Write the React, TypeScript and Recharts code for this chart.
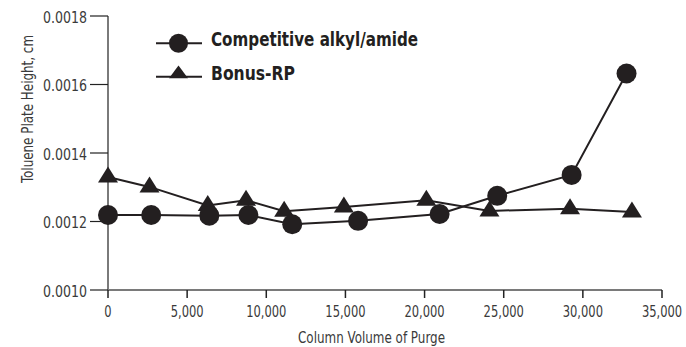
import React from "react";
import { LineChart, Line, XAxis, YAxis, Legend, Label } from "recharts";

const circleX = [0, 2730, 6400, 8870, 11640, 15800, 20950, 24590, 29290, 32760];
const circleY = [0.001219, 0.001219, 0.001217, 0.001219, 0.001192, 0.001202, 0.001222, 0.001275, 0.001336, 0.001632];
const triangleX = [0, 2620, 6300, 8720, 11130, 14900, 20110, 24100, 29190, 33100];
const triangleY = [0.00133, 0.001301, 0.001247, 0.001262, 0.00123, 0.001242, 0.001262, 0.001231, 0.001237, 0.001228];
const xTicks = [0, 5000, 10000, 15000, 20000, 25000, 30000, 35000];
const yTicks = [0.001, 0.0012, 0.0014, 0.0016, 0.0018];
const seriesNames = ["Competitive alkyl/amide", "Bonus-RP"];
const xTitle = "Column Volume of Purge";
const yTitle = "Toluene Plate Height, cm";

const circleData = circleX.map((x, i) => ({ x, y: circleY[i] }));
const triangleData = triangleX.map((x, i) => ({ x, y: triangleY[i] }));

const FONT = "'Liberation Sans Narrow', 'DejaVu Sans Condensed', 'Roboto Condensed', 'Arial Narrow', 'Liberation Sans', Arial, sans-serif";
const INK = "#231f20";
const TXT = "#3a3a3a";

const CircleDot = (props: any) => {
  const { cx, cy } = props;
  if (cx == null || cy == null) return null;
  return <circle cx={cx} cy={cy} r={10} fill={INK} stroke="none" />;
};

const TriangleDot = (props: any) => {
  const { cx, cy } = props;
  if (cx == null || cy == null) return null;
  const pts = `${cx},${cy - 10.5} ${cx - 10},${cy + 5.5} ${cx + 10},${cy + 5.5}`;
  return <polygon points={pts} fill={INK} stroke="none" />;
};

const YTick = (props: any) => {
  const { x, y, payload } = props;
  const s = Number(payload.value).toFixed(4);
  return (
    <text x={x - 1} y={y} dy={6.5} textAnchor="end" fill={TXT} fontFamily={FONT} fontSize={16}
      textLength={44} lengthAdjust="spacingAndGlyphs">
      {s}
    </text>
  );
};

const XTick = (props: any) => {
  const { x, y, payload } = props;
  const s = Number(payload.value).toLocaleString("en-US");
  return (
    <g transform={`translate(${x}, ${y + 17}) scale(0.8, 1)`}>
      <text x={0} y={0} textAnchor="middle" fill={TXT} fontFamily={FONT} fontSize={16}>
        {s}
      </text>
    </g>
  );
};

const LegendContent = () => (
  <svg width={300} height={70} style={{ display: "block", overflow: "visible" }}>
    <line x1={6} y1={18.3} x2={52} y2={18.3} stroke={INK} strokeWidth={2} />
    <circle cx={28.5} cy={18.3} r={9.5} fill={INK} />
    <text x={61} y={20.7} fill={INK} fontFamily={FONT} fontWeight="bold" fontSize={19}
      textLength={207} lengthAdjust="spacingAndGlyphs">
      {seriesNames[0]}
    </text>
    <line x1={6} y1={51.7} x2={52} y2={51.7} stroke={INK} strokeWidth={2} />
    <polygon points={`28.5,40.5 19,53.2 38,53.2`} fill={INK} />
    <text x={61} y={55} fill={INK} fontFamily={FONT} fontWeight="bold" fontSize={19}
      textLength={84} lengthAdjust="spacingAndGlyphs">
      {seriesNames[1]}
    </text>
  </svg>
);

export default function App() {
  return (
    <div style={{ position: "absolute", left: 0, top: 0, width: 686, height: 347, background: "#fff" }}>
      <LineChart width={686} height={347} margin={{ top: 16, right: 24, left: 0, bottom: 0 }}>
        <XAxis
          dataKey="x"
          type="number"
          domain={[0, 35000]}
          ticks={xTicks}
          height={57}
          tickSize={8}
          tick={<XTick />}
          axisLine={{ stroke: "#7a7a7a", strokeWidth: 2 }}
          tickLine={{ stroke: "#222", strokeWidth: 1.5 }}
          allowDuplicatedCategory={false}
        >
          <Label
            content={() => (
              <text x={371.5} y={343} textAnchor="middle" fill={TXT} fontFamily={FONT} fontSize={16}
                textLength={147} lengthAdjust="spacingAndGlyphs">
                {xTitle}
              </text>
            )}
          />
        </XAxis>
        <YAxis
          dataKey="y"
          type="number"
          domain={[0.001, 0.0018]}
          ticks={yTicks}
          width={108}
          tickSize={18}
          tick={<YTick />}
          axisLine={{ stroke: "#7a7a7a", strokeWidth: 2 }}
          tickLine={{ stroke: "#222", strokeWidth: 1.2 }}
        >
          <Label
            content={() => (
              <text x={33} y={109} textAnchor="middle" fill={TXT} fontFamily={FONT} fontSize={16}
                transform="rotate(-90, 33, 109)" textLength={148} lengthAdjust="spacingAndGlyphs">
                {yTitle}
              </text>
            )}
          />
        </YAxis>
        <Legend
          layout="vertical"
          align="center"
          verticalAlign="middle"
          content={<LegendContent />}
          wrapperStyle={{ position: "absolute", left: 150, top: 25, width: 300, height: 70 }}
        />
        <Line
          data={triangleData}
          dataKey="y"
          name={seriesNames[1]}
          stroke={INK}
          strokeWidth={2}
          dot={<TriangleDot />}
          activeDot={false}
          isAnimationActive={false}
        />
        <Line
          data={circleData}
          dataKey="y"
          name={seriesNames[0]}
          stroke={INK}
          strokeWidth={2}
          dot={<CircleDot />}
          activeDot={false}
          isAnimationActive={false}
        />
      </LineChart>
    </div>
  );
}
